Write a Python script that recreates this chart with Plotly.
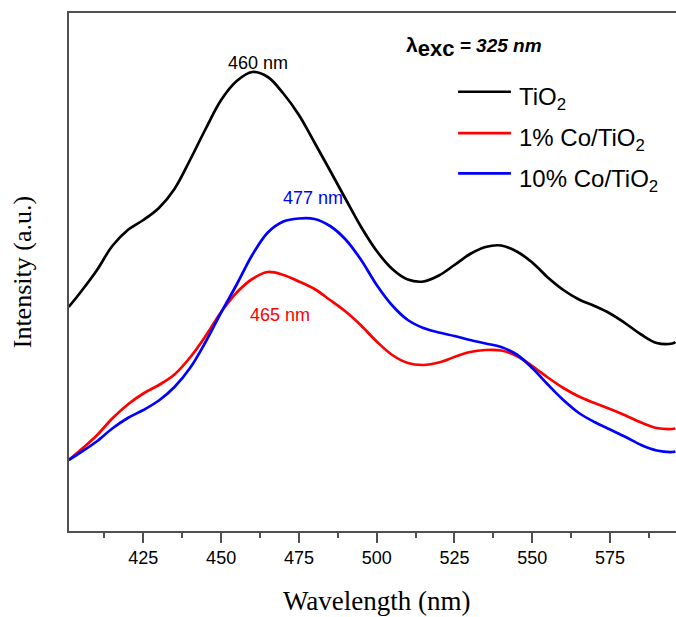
import plotly.graph_objects as go

# Wavelength (nm)
wavelength = [401, 405, 410, 415, 420, 425, 430, 435, 440, 445, 450, 455, 460, 465, 470,
              475, 480, 485, 490, 495, 500, 505, 510, 515, 520, 525, 530, 535, 540, 545,
              550, 555, 560, 565, 570, 575, 580, 585, 590, 595, 596]

# PL intensities (a.u.)
tio2 = [2240, 2395, 2605, 2850, 3010, 3110, 3230, 3420, 3710, 4020, 4310, 4500, 4590, 4540, 4375,
        4160, 3885, 3605, 3320, 3040, 2800, 2620, 2515, 2495, 2555, 2660, 2770, 2840, 2855, 2795,
        2685, 2535, 2410, 2315, 2250, 2175, 2075, 1965, 1880, 1875, 1890]

co1 = [710, 815, 955, 1125, 1265, 1375, 1460, 1565, 1735, 1950, 2190, 2385, 2520, 2590, 2560,
       2495, 2420, 2310, 2195, 2055, 1895, 1760, 1680, 1660, 1685, 1740, 1790, 1810, 1805, 1750,
       1650, 1535, 1430, 1345, 1280, 1220, 1155, 1085, 1030, 1020, 1025]

co10 = [710, 790, 895, 1025, 1130, 1210, 1305, 1440, 1630, 1890, 2185, 2465, 2760, 2985, 3095,
        3125, 3120, 3050, 2915, 2710, 2460, 2255, 2110, 2030, 1985, 1950, 1910, 1875, 1840, 1765,
        1630, 1465, 1310, 1180, 1090, 1015, 940, 860, 805, 790, 795]

series_names = ["TiO<sub>2</sub>", "1% Co/TiO<sub>2</sub>", "10% Co/TiO<sub>2</sub>"]
series_colors = ["#000000", "#ff0000", "#0000ff"]
series_values = [tio2, co1, co10]

xticks = [425, 450, 475, 500, 525, 550, 575]

# peak labels: (text, wavelength, intensity, colour)
peak_labels = [("460 nm", 461.9, 4680, "#000000"),
               ("477 nm", 479.5, 3330, "#0000ff"),
               ("465 nm", 468.9, 2160, "#ff0000")]

fig = go.Figure()
for name, col, vals in zip(series_names, series_colors, series_values):
    fig.add_trace(go.Scatter(x=wavelength, y=vals, mode="lines", name=name,
                             line=dict(color=col, width=2.7, shape="spline", smoothing=1.0),
                             showlegend=False, hoverinfo="x+y+name"))

axis_col = "#505050"
fig.update_xaxes(range=[401.1, 596.2], tickvals=xticks, ticktext=[str(t) for t in xticks],
                 ticks="outside", ticklen=10, tickwidth=1.5, tickcolor=axis_col,
                 minor=dict(dtick=12.5, tick0=400, ticks="outside", ticklen=5, tickwidth=1.5, tickcolor=axis_col),
                 showline=True, linecolor=axis_col, linewidth=1.5, mirror=True,
                 showgrid=False, zeroline=False,
                 tickfont=dict(family="Liberation Sans, Arial", size=18, color="#000000"))
fig.update_yaxes(range=[0, 5180], showticklabels=False, ticks="",
                 showline=True, linecolor=axis_col, linewidth=1.5, mirror=False,
                 showgrid=False, zeroline=False)

annotations = []
# axis titles
annotations.append(dict(text="Wavelength (nm)", xref="x", yref="paper", x=500, y=-0.135,
                        xanchor="center", yanchor="middle", showarrow=False,
                        font=dict(family="Liberation Serif, Times New Roman", size=27, color="#000000")))
annotations.append(dict(text="Intensity (a.u.)", xref="paper", yref="paper", x=-0.077, y=0.5,
                        xanchor="center", yanchor="middle", textangle=-90, showarrow=False,
                        font=dict(family="Liberation Serif, Times New Roman", size=26, color="#000000")))
# excitation label
annotations.append(dict(text="<b>λ<sub><span style='font-size:22px'>exc</span></sub></b>"
                             "<b><i><span style='font-size:19px'> = 325 nm</span></i></b>",
                        xref="paper", yref="paper", x=0.552, y=0.934, xanchor="left", yanchor="middle",
                        showarrow=False, font=dict(family="Liberation Sans, Arial", size=21, color="#000000")))
# peak labels
for txt, lx, ly, col in peak_labels:
    annotations.append(dict(text=txt, xref="x", yref="y", x=lx, y=ly, xanchor="center", yanchor="middle",
                            showarrow=False, font=dict(family="Liberation Sans, Arial", size=18, color=col)))

# custom legend
shapes = []
leg_y = [0.848, 0.768, 0.6905]
for name, col, ly in zip(series_names, series_colors, leg_y):
    shapes.append(dict(type="line", xref="paper", yref="paper", x0=0.641, x1=0.728, y0=ly, y1=ly,
                       line=dict(color=col, width=2.7)))
    annotations.append(dict(text=name, xref="paper", yref="paper", x=0.7375, y=ly - 0.013,
                            xanchor="left", yanchor="middle", showarrow=False,
                            font=dict(family="Liberation Sans, Arial", size=24, color="#000000")))

fig.update_layout(width=676, height=617, margin=dict(l=69, r=0, t=13, b=86),
                  plot_bgcolor="white", paper_bgcolor="white",
                  annotations=annotations, shapes=shapes, showlegend=False)

fig.write_html("out.html")
